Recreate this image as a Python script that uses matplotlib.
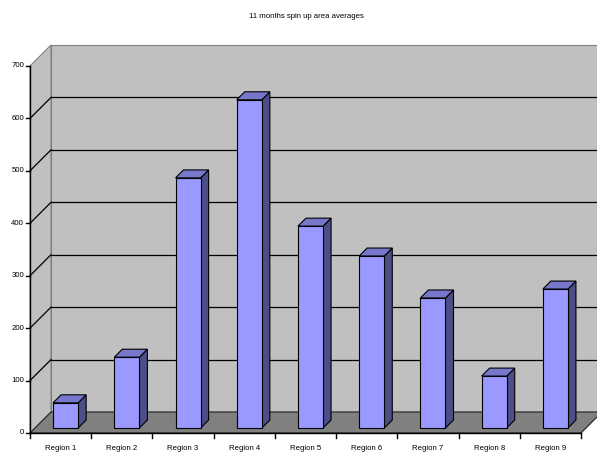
import matplotlib.pyplot as plt
from matplotlib.patches import Polygon

plt.rcParams['font.family'] = ['Liberation Sans', 'DejaVu Sans']

# Data
regions = ['Region 1', 'Region 2', 'Region 3', 'Region 4', 'Region 5',
           'Region 6', 'Region 7', 'Region 8', 'Region 9']
averages = [48, 135, 477, 626, 385, 328, 248, 99, 265]
y_ticks = [0, 100, 200, 300, 400, 500, 600, 700]
title = '11 months spin up area averages'

# Figure and front plane of the 3D box
W, H = 597, 455
fig = plt.figure(figsize=(W / 100, H / 100), dpi=100)
fig.patch.set_facecolor('white')
ax_l, ax_b, ax_w, ax_h = 30, 22, 551, 367  # pixels
ax = fig.add_axes([ax_l / W, ax_b / H, ax_w / W, ax_h / H])
ax.set_xlim(0, len(regions))
ax.set_ylim(0, 700)
ax.axis('off')

# pixel depth -> data offsets (45 degree oblique projection)
kx = len(regions) / ax_w
ky = 700 / ax_h


def off(x, y, d):
    return (x + d * kx, y + d * ky)


def poly(pts, fc, ec, lw=0.8, z=1):
    ax.add_patch(Polygon(pts, closed=True, facecolor=fc, edgecolor=ec,
                         linewidth=lw, zorder=z, clip_on=False))


D = 21  # floor / wall depth in pixels
n = len(regions)
wall = '#C0C0C0'
floor = '#808080'
edge_gray = '#808080'

# back wall
poly([off(0, 0, D), off(n, 0, D), off(n, 700, D), off(0, 700, D)], wall, edge_gray, z=1)
# left side wall
poly([(0, 0), off(0, 0, D), off(0, 700, D), (0, 700)], wall, edge_gray, z=1)

# gridlines on back wall and side wall
for v in y_ticks[1:-1]:
    x0, y0 = off(0, v, D)
    x1, y1 = off(n, v, D)
    ax.plot([x0, x1], [y0, y1], color='black', lw=0.9, zorder=2, clip_on=False)
    ax.plot([0, x0], [v, y0], color='black', lw=0.9, zorder=2, clip_on=False)

# floor
poly([(0, 0), (n, 0), off(n, 0, D), off(0, 0, D)], floor, '#202020', lw=0.8, z=3)

# front axes
ax.plot([0, 0], [0, 700], color='black', lw=1.0, zorder=6, clip_on=False)
ax.plot([0, n], [0, 0], color='black', lw=1.0, zorder=6, clip_on=False)
tick_x = 4 * kx
tick_y = 5 * ky
for v in y_ticks:
    ax.plot([-tick_x, 0], [v, v], color='black', lw=1.0, zorder=6, clip_on=False)
    ax.text(-tick_x - 2 * kx, v, str(v), ha='right', va='center',
            fontsize=5.6, zorder=6)
for i in range(n + 1):
    ax.plot([i, i], [0, -tick_y], color='black', lw=1.0, zorder=6, clip_on=False)
for i, name in enumerate(regions):
    ax.text(i + 0.5, -15 * ky, name, ha='center', va='center', fontsize=5.6)

# bars
front_c = '#9999FF'
top_c = '#7777CC'
side_c = '#4D4D88'
bw = 0.41
d0, bd = 5, 8  # bar front offset and bar depth (pixels)
for i, v in enumerate(averages):
    xl, xr = i + 0.5 - bw / 2, i + 0.5 + bw / 2
    fl = off(xl, 0, d0)
    fr = off(xr, 0, d0)
    tl = off(xl, v, d0)
    tr = off(xr, v, d0)
    poly([fr, off(xr, 0, d0 + bd), off(xr, v, d0 + bd), tr], side_c, 'black', z=4)
    poly([tl, tr, off(xr, v, d0 + bd), off(xl, v, d0 + bd)], top_c, 'black', z=4)
    poly([fl, fr, tr, tl], front_c, 'black', z=5)

fig.text(306 / W, 1 - 17 / H, title, ha='center', va='center', fontsize=5.6)

fig.savefig('out.png', dpi=100)
